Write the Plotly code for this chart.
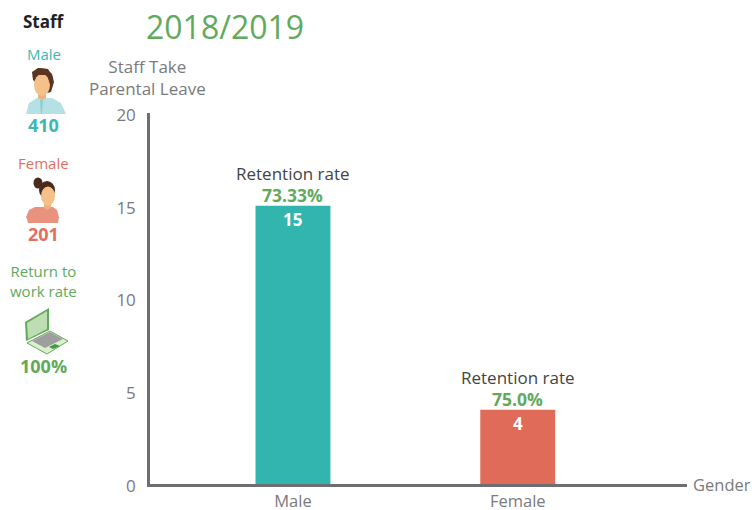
import plotly.graph_objects as go

categories = ["Male", "Female"]
staff_on_leave = [15, 4]
retention_rates = ["73.33%", "75.0%"]
bar_colors = ["#31B5AE", "#E06B59"]
y_ticks = [0, 5, 10, 15, 20]
title_text = "2018/2019"
y_axis_title = ["Staff Take", "Parental Leave"]
x_axis_title = "Gender"
staff_counts = ["410", "201"]
return_to_work = "100%"

W, H = 752, 510
L, R, T, B = 150, 65, 113, 26
FONT = "Open Sans"
GREY = "#7A7A7C"
GREEN = "#62A95B"
TEAL = "#3BB8B2"
RED = "#E3705F"


def px(x):
    return (x - L) / (W - L - R)


def py(y):
    return 1 - (y - T) / (H - T - B)


def path(points, close=True):
    s = "M " + " L ".join(f"{px(x):.5f},{py(y):.5f}" for x, y in points)
    return s + (" Z" if close else "")


def poly(points, fill, line=None):
    return dict(type="path", xref="paper", yref="paper", path=path(points), fillcolor=fill,
                line=dict(width=1 if line else 0, color=line or fill), layer="above")


def ell(cx, cy, rx, ry, fill):
    return dict(type="circle", xref="paper", yref="paper", x0=px(cx - rx), x1=px(cx + rx),
                y0=py(cy + ry), y1=py(cy - ry), fillcolor=fill, line=dict(width=0), layer="above")


shapes = [
    # male icon
    poly([(26, 114), (29, 103), (37, 98), (52, 98), (61, 103), (66, 114)], "#B5E0E4"),
    poly([(40, 100), (41, 114), (42, 114), (43, 100)], "#8CCFD3"),
    poly([(32, 72), (38, 68), (47, 69), (52, 74), (54, 82), (51, 92), (47, 93), (33, 80)], "#5A3520"),
    poly([(38, 93), (46, 93), (46, 98), (42, 100), (38, 98)], "#EDB27C"),
    ell(42, 85, 8, 11, "#F5C089"),
    poly([(32, 78), (34, 74), (40, 75), (47, 75), (50, 84), (53, 78), (48, 69), (38, 68)], "#5A3520"),
    # female icon
    poly([(27, 219), (26, 217), (29, 210), (35, 207), (53, 207), (57, 210), (59, 217), (58, 223), (28, 223)], "#E8927F"),
    poly([(44, 203), (51, 203), (51, 208), (47, 210), (44, 208)], "#EDB27C"),
    ell(38, 183, 4.5, 5.5, "#4A2A1C"),
    ell(47, 190, 8, 9, "#4A2A1C"),
    ell(48, 196, 7, 9.5, "#F5C089"),
    # laptop icon
    poly([(25, 322), (49, 308), (49, 330), (26, 341)], "#62A95B"),
    poly([(27, 323), (47, 311), (47, 329), (28, 339)], "#BFDDB3"),
    poly([(27, 343), (50, 331), (68, 341), (47, 354)], "#DCEFCF", "#62A95B"),
    poly([(32, 341), (50, 332), (63, 339), (45, 348)], "#9E9E9E"),
    poly([(49, 347), (55, 344), (60, 346), (53, 349)], "#3E9B45"),
]

annotations = [
    dict(text=title_text, x=px(225), y=py(26), font=dict(size=32, color=GREEN)),
    dict(text="<br>".join(y_axis_title), x=px(147), y=py(77), font=dict(size=17, color=GREY)),
    dict(text=x_axis_title, x=px(722), y=py(484), font=dict(size=16.5, color=GREY)),
    dict(text="<b>Staff</b>", x=px(43), y=py(21), font=dict(size=17, color="#222222")),
    dict(text=categories[0], x=px(44), y=py(54), font=dict(size=15, color=TEAL)),
    dict(text=f"<b>{staff_counts[0]}</b>", x=px(44), y=py(125), font=dict(size=18, color=TEAL)),
    dict(text=categories[1], x=px(44), y=py(163), font=dict(size=15, color=RED)),
    dict(text=f"<b>{staff_counts[1]}</b>", x=px(44), y=py(234), font=dict(size=18, color=RED)),
    dict(text="Return to<br>work rate", x=px(44), y=py(281), font=dict(size=15, color=GREEN)),
    dict(text=f"<b>{return_to_work}</b>", x=px(44), y=py(366), font=dict(size=18, color=GREEN)),
]
annotations = [dict(a, xref="paper", yref="paper", showarrow=False, xanchor="center",
                    yanchor="middle") for a in annotations]

for cat, val, rate in zip(categories, staff_on_leave, retention_rates):
    annotations.append(dict(x=cat, y=val, xref="x", yref="y", text=f"<b>{rate}</b>", showarrow=False,
                            yanchor="bottom", yshift=-3, font=dict(size=17.5, color=GREEN, family=FONT)))
    annotations.append(dict(x=cat, y=val, xref="x", yref="y", text="Retention rate", showarrow=False,
                            yanchor="bottom", yshift=19, font=dict(size=17, color="#444444", family=FONT)))
    annotations.append(dict(x=cat, y=val, xref="x", yref="y", text=f"<b>{val}</b>", showarrow=False,
                            yanchor="top", yshift=0, font=dict(size=17, color="white", family=FONT)))

fig = go.Figure(go.Bar(
    x=categories, y=staff_on_leave, marker=dict(color=bar_colors, line=dict(width=0)),
    width=1 / 3, hoverinfo="skip",
))

fig.update_layout(
    width=W, height=H, margin=dict(l=L, r=R, t=T, b=B, pad=0), showlegend=False,
    paper_bgcolor="white", plot_bgcolor="white", font=dict(family=FONT, color=GREY, size=16),
    shapes=shapes, annotations=annotations,
    xaxis=dict(type="category", range=[-0.636, 1.753], showgrid=False, zeroline=False, automargin=False,
               showline=True, linecolor="#6E6E72", linewidth=2.5, ticks="",
               tickfont=dict(size=16.5, color=GREY)),
    yaxis=dict(range=[0, 20], tickvals=y_ticks, showgrid=False, zeroline=False, automargin=False,
               showline=True, linecolor="#6E6E72", linewidth=2.5, ticks="outside", ticklen=8,
               tickcolor="rgba(0,0,0,0)", tickfont=dict(size=17, color=GREY), ticklabelshift=2),
)

fig.write_html("out.html", post_script="document.body.style.margin='0';",
               config=dict(displayModeBar=False))
